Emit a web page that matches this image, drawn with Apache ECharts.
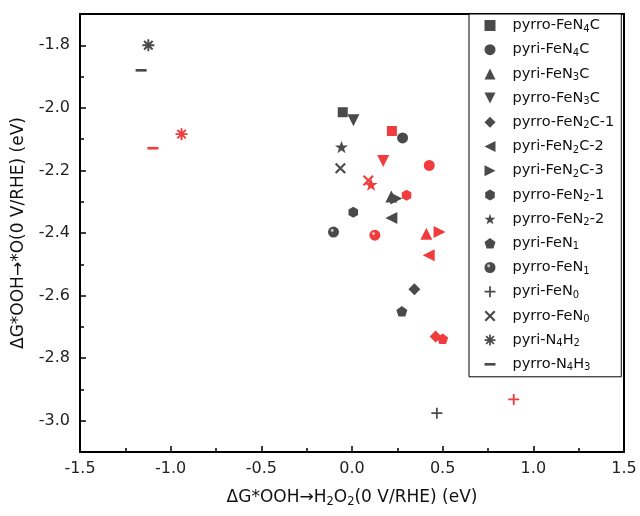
<!DOCTYPE html>
<html><head><meta charset="utf-8">
<script src="https://cdn.jsdelivr.net/npm/echarts@6/dist/echarts.min.js"></script>
<style>html,body{margin:0;padding:0;background:#fff}#c{width:640px;height:516px}</style>
</head><body><div id="c"></div>
<script>
// ---- data ----
const names = ['pyrro-FeN{s|4}C','pyri-FeN{s|4}C','pyri-FeN{s|3}C','pyrro-FeN{s|3}C','pyrro-FeN{s|2}C-1','pyri-FeN{s|2}C-2','pyri-FeN{s|2}C-3','pyrro-FeN{s|2}-1','pyrro-FeN{s|2}-2','pyri-FeN{s|1}','pyrro-FeN{s|1}','pyri-FeN{s|0}','pyrro-FeN{s|0}','pyri-N{s|4}H{s|2}','pyrro-N{s|4}H{s|3}'];
const grayX = [-0.051, 0.279, 0.217, 0.008, 0.344, 0.217, 0.244, 0.007, -0.058, 0.275, -0.102, 0.468, -0.064, -1.123, -1.163];
const grayY = [-2.014, -2.096, -2.283, -2.040, -2.580, -2.352, -2.290, -2.334, -2.125, -2.650, -2.397, -2.976, -2.193, -1.800, -1.880];
const redX  = [0.220, 0.426, 0.410, 0.172, 0.461, 0.423, 0.483, 0.301, 0.105, 0.500, 0.126, 0.892, 0.090, -0.940, -1.098];
const redY  = [-2.074, -2.184, -2.402, -2.170, -2.731, -2.471, -2.397, -2.279, -2.245, -2.738, -2.407, -2.932, -2.232, -2.084, -2.129];
const xTickMin = -1.5, xTickMax = 1.5, xTickStep = 0.5;
const yMin = -3.1, yMax = -1.7, yTickStep = 0.2;

// ---- styles ----
const GRAY = '#4a4a4a', RED = '#f03c3c';
const FONT = "'DejaVu Sans', sans-serif";
const P = {
  up: 'path://M0,-5L5,5L-5,5Z',
  down: 'path://M-5,-5L5,-5L0,5Z',
  left: 'path://M5,-5L5,5L-5,0Z',
  right: 'path://M-5,-5L-5,5L5,0Z',
  hex: 'path://M0,-5L4.33,-2.5L4.33,2.5L0,5L-4.33,2.5L-4.33,-2.5Z',
  pent: 'path://M0,-5L4.76,-1.55L2.94,4.05L-2.94,4.05L-4.76,-1.55Z',
  star: 'path://M0,-5L1.18,-1.62L4.76,-1.55L1.9,0.62L2.94,4.05L0,2L-2.94,4.05L-1.9,0.62L-4.76,-1.55L-1.18,-1.62Z',
  plus: 'path://M-5,-0.8L5,-0.8L5,0.8L-5,0.8ZM0.8,-5L0.8,5L-0.8,5L-0.8,-5Z',
  cross: 'path://M-2.97,-4.1L4.1,2.97L2.97,4.1L-4.1,-2.97ZM-4.1,2.97L2.97,-4.1L4.1,-2.97L-2.97,4.1Z',
  aster: 'path://M-5,-0.8L5,-0.8L5,0.8L-5,0.8ZM0.8,-5L0.8,5L-0.8,5L-0.8,-5ZM-2.97,-4.1L4.1,2.97L2.97,4.1L-4.1,-2.97ZM-4.1,2.97L2.97,-4.1L4.1,-2.97L-2.97,4.1Z',
  dash: 'path://M-5,-1.2L5,-1.2L5,1.2L-5,1.2Z'
};
const symbols = ['rect','circle',P.up,P.down,'diamond',P.left,P.right,P.hex,P.star,P.pent,'circle',P.plus,P.cross,P.aster,P.dash];
const sizes = [10,11,12,12,12,12,12,11,13,11,11,11,11,12,[11,11]];
function sphere(c){return {type:'radial',x:0.38,y:0.35,r:0.65,colorStops:[{offset:0,color:'#ffffff'},{offset:0.3,color:c},{offset:1,color:c}]};}

const series = names.map((n,i)=>({
  type:'scatter', name:n, symbol:symbols[i], symbolSize:sizes[i],
  symbolKeepAspect:true,
  itemStyle:{color: i===10 ? sphere(GRAY) : GRAY, opacity:1},
  emphasis:{disabled:true},
  data:[
    {value:[grayX[i], grayY[i]]},
    {value:[redX[i], redY[i]], itemStyle:{color: i===10 ? sphere(RED) : RED}}
  ]
}));

const subRich = {s:{fontSize:10, fontFamily:FONT, color:'#111', verticalAlign:'bottom', padding:[7,0,0,0]}, g:{width:12}};

const chart = echarts.init(document.getElementById('c'), null, {renderer:'canvas'});
chart.setOption({
  animation:false,
  backgroundColor:'#fff',
  grid:{left:80, right:16, top:14, bottom:64, show:true, borderColor:'#000', borderWidth:2, backgroundColor:'transparent'},
  legend:{
    orient:'vertical', left:469, top:14, itemWidth:11, itemHeight:11, itemGap:8.2,
    padding:[4,7,4,15.5], borderColor:'#000', borderWidth:1, backgroundColor:'#fff',
    textStyle:{fontFamily:FONT, fontSize:14.5, color:'#111', rich:subRich},
    formatter: n => '{g| }' + n,
    data: names
  },
  xAxis:{
    type:'value', min:xTickMin, max:xTickMax, interval:xTickStep,
    name:'ΔG*OOH→H{s|2}O{s|2}(0 V/RHE) (eV)', nameLocation:'middle', nameGap:36,
    nameTextStyle:{fontFamily:FONT, fontSize:17, color:'#111', rich:{s:{fontSize:11.5, fontFamily:FONT, color:'#111', verticalAlign:'bottom', padding:[8,0,0,0]}}},
    axisLine:{show:true, onZero:false, lineStyle:{color:'#000', width:2}},
    axisTick:{show:true, inside:true, length:6, lineStyle:{color:'#000', width:1.5}},
    minorTick:{show:true, splitNumber:2, length:4, lineStyle:{color:'#000', width:1.5}},
    splitLine:{show:false},
    axisLabel:{fontFamily:FONT, fontSize:16, color:'#222', margin:9, formatter:v=>v.toFixed(1)}
  },
  yAxis:{
    type:'value', min:yMin, max:yMax, minInterval:yTickStep, maxInterval:yTickStep,
    name:'ΔG*OOH→*O(0 V/RHE) (eV)', nameLocation:'middle', nameGap:53,
    nameTextStyle:{fontFamily:FONT, fontSize:17, color:'#111'},
    axisLine:{show:true, onZero:false, lineStyle:{color:'#000', width:2}},
    axisTick:{show:true, inside:true, length:6, lineStyle:{color:'#000', width:1.5}},
    minorTick:{show:true, splitNumber:2, length:4, lineStyle:{color:'#000', width:1.5}},
    splitLine:{show:false},
    axisLabel:{fontFamily:FONT, fontSize:16, color:'#222', margin:10, showMinLabel:false, showMaxLabel:false, formatter:v=>v.toFixed(1)}
  },
  series: series
});
</script>
</body></html>
